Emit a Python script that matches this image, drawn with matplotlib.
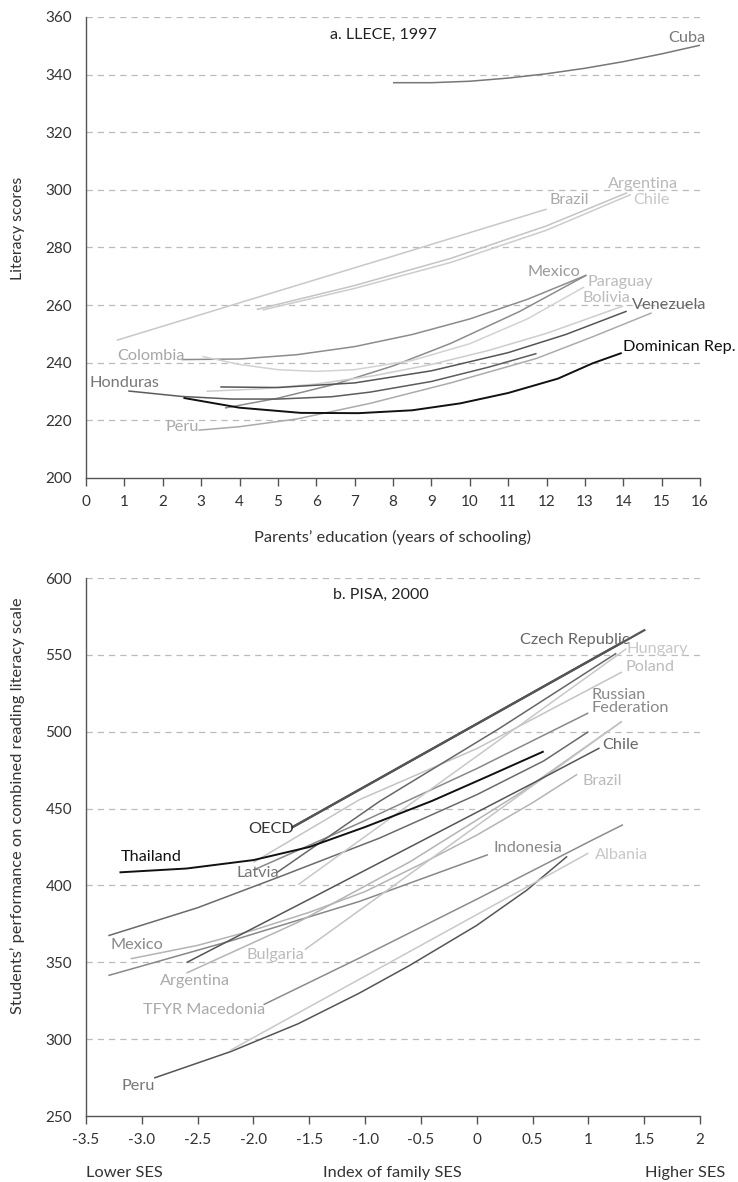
import matplotlib
matplotlib.use('Agg')
import matplotlib.pyplot as plt

plt.rcParams['font.family'] = ['Lato', 'DejaVu Sans']

# ---- panel a: LLECE 1997, literacy score by parents' years of schooling ----
llece_names = ['Cuba', 'Brazil', 'Argentina', 'Chile', 'Colombia', 'Mexico',
               'Paraguay', 'Bolivia', 'Honduras', 'Venezuela', 'Peru', 'Dominican Rep.']
llece_x = [
    [8, 9, 10, 11, 12, 13, 14, 15, 16],
    [0.8, 4, 8, 12],
    [4.45, 7, 9.5, 12, 14.1],
    [4.6, 7, 9.5, 12, 14.2],
    [2.49, 4, 5.5, 7, 8.5, 10, 11.5, 13.04],
    [3.62, 5, 6.5, 8, 9.5, 11.3, 13.04],
    [3.03, 4, 5, 6, 7, 8.5, 10, 11.5, 12.98],
    [3.14, 4.5, 6, 7.5, 9, 10.5, 12, 14.0],
    [1.1, 2.5, 3.8, 5, 6.4, 7.4, 9, 10.5, 11.74],
    [3.5, 5, 7, 9, 11, 12.5, 14.09],
    [2.93, 4, 5.5, 7.4, 9.5, 11.74, 13.2, 14.74],
    [2.54, 4, 5.6, 7.1, 8.5, 9.75, 11, 12.3, 13.2, 13.96],
]
llece_y = [
    [337.2, 337.2, 337.7, 338.8, 340.3, 342.2, 344.5, 347.2, 350.2],
    [247.8, 260.8, 277.0, 293.3],
    [258.5, 266.8, 276.2, 287.5, 299.0],
    [258.3, 265.8, 274.8, 286.0, 298.4],
    [241.1, 241.3, 242.8, 245.6, 249.8, 255.2, 262.0, 270.4],
    [224.3, 227.7, 232.6, 238.9, 246.7, 257.8, 270.4],
    [242.2, 239.4, 237.6, 237.0, 237.6, 240.8, 246.6, 255.2, 266.3],
    [230.1, 230.9, 232.6, 235.5, 239.4, 244.3, 250.2, 259.7],
    [230.2, 228.3, 227.4, 227.4, 228.2, 229.8, 233.5, 238.5, 243.2],
    [231.6, 231.4, 233.0, 237.2, 243.5, 249.8, 257.9],
    [216.6, 217.8, 220.5, 225.9, 233.0, 241.5, 249.0, 257.3],
    [227.8, 224.4, 222.6, 222.5, 223.5, 225.9, 229.5, 234.5, 239.8, 243.4],
]
llece_colors = ['#777777', '#c8c8c8', '#c4c4c4', '#cccccc', '#8c8c8c', '#8c8c8c',
                '#d2d2d2', '#cdcdcd', '#5c5c5c', '#555555', '#ababab', '#111111']
llece_label_xy = [(16.13, 352.6), (12.07, 296.5), (13.6, 302.0), (14.25, 296.5),
                  (0.81, 242.4), (12.87, 271.4), (13.08, 267.9), (12.95, 262.3),
                  (0.10, 232.8), (14.23, 260.0), (2.08, 217.7), (13.99, 245.5)]
llece_label_ha = ['right', 'left', 'left', 'left', 'left', 'right',
                  'left', 'left', 'left', 'left', 'left', 'left']
llece_label_colors = ['#777777', '#aaaaaa', '#b8b8b8', '#c8c8c8', '#a6a6a6', '#999999',
                      '#bbbbbb', '#bbbbbb', '#777777', '#666666', '#aaaaaa', '#111111']

# ---- panel b: PISA 2000, reading score by index of family SES ----
pisa_names = ['Peru', 'Albania', 'TFYR Macedonia', 'Indonesia', 'Argentina', 'Mexico',
              'Bulgaria', 'Brazil', 'Chile', 'Russian\nFederation', 'Poland', 'Hungary',
              'Latvia', 'Thailand', 'OECD', 'Czech Republic']
pisa_x = [
    [-2.89, -2.2, -1.6, -1.05, -0.6, 0, 0.45, 0.81],
    [-2.21, 1.0],
    [-1.91, -1.05, 0, 1.04, 1.31],
    [-3.3, -2.2, -1.05, 0.1],
    [-2.6, -1.6, -0.6, 0.4, 1.3],
    [-3.1, -2.5, -2.0, -1.5, -1.0, -0.5, 0, 0.5, 0.9],
    [-1.54, 1.3],
    [-2.6, -1.5, -0.5, 0.5, 1.1],
    [-3.3, -2.5, -1.76, -0.87, 0, 0.6, 1.0],
    [-2.0, -1.05, 0, 1.0],
    [-2.0, -1.05, 0, 1.3],
    [-1.6, 1.34],
    [-1.79, -0.87, 0.2, 1.25],
    [-3.2, -2.6, -2.0, -1.5, -1.0, -0.4, 0.1, 0.6],
    [-1.66, 1.3],
    [-1.66, 1.51],
]
pisa_y = [
    [274.7, 292.0, 310.0, 330.0, 348.0, 374.0, 397.0, 418.9],
    [292.6, 421.0],
    [322.4, 352.8, 391.0, 429.7, 439.5],
    [341.4, 364.0, 389.6, 420.0],
    [343.0, 376.1, 415.3, 460.7, 506.7],
    [352.3, 361.0, 370.9, 382.5, 396.0, 413.9, 432.7, 453.8, 472.3],
    [358.2, 506.7],
    [349.8, 391.0, 428.7, 466.4, 489.4],
    [367.3, 385.5, 405.8, 430.8, 459.0, 481.0, 500.0],
    [410.0, 440.6, 476.0, 512.2],
    [415.0, 455.8, 489.0, 538.8],
    [400.5, 554.0],
    [408.4, 454.7, 502.0, 551.0],
    [408.5, 411.0, 416.5, 425.0, 438.0, 455.0, 471.0, 487.2],
    [437.5, 558.0],
    [437.5, 566.4],
]
pisa_colors = ['#555555', '#c8c8c8', '#8c8c8c', '#888888', '#b4b4b4', '#b4b4b4',
               '#c4c4c4', '#555555', '#6a6a6a', '#888888', '#c4c4c4', '#c8c8c8',
               '#666666', '#111111', '#444444', '#555555']
pisa_label_xy = [(-3.18, 269.8), (1.06, 420.0), (-2.99, 319.2), (0.146, 424.5),
                 (-2.84, 338.0), (-3.28, 361.4), (-2.06, 354.9), (0.95, 468.1),
                 (1.12, 491.5), (1.03, 519.5), (1.337, 542.3), (1.346, 554.0),
                 (-2.15, 408.3), (-3.19, 418.7), (-2.05, 436.9), (0.39, 559.9)]
pisa_label_colors = ['#777777', '#c8c8c8', '#aaaaaa', '#888888', '#aaaaaa', '#888888',
                     '#bbbbbb', '#bbbbbb', '#666666', '#888888', '#bbbbbb', '#c8c8c8',
                     '#777777', '#111111', '#333333', '#666666']
pisa_ticks = [-3.5, -3.0, -2.5, -2.0, -1.5, -1.0, -0.5, 0, 0.5, 1, 1.5, 2]
pisa_tick_labels = ['-3.5', '-3.0', '-2.5', '-2.0', '-1.5', '-1.0', '-0.5',
                    '0', '0.5', '1', '1.5', '2']

W, H = 738, 1182
LABEL_FS = 11.7
fig = plt.figure(figsize=(W / 100, H / 100), dpi=100)


def px_axes(left, top, right, bottom):
    return fig.add_axes([left / W, 1 - bottom / H, (right - left) / W, (bottom - top) / H])


def style(ax, yticks):
    for s in ['top', 'right']:
        ax.spines[s].set_visible(False)
    ax.spines['left'].set_color('#555555')
    ax.spines['bottom'].set_color('#555555')
    ax.spines['left'].set_linewidth(1.0)
    ax.spines['bottom'].set_linewidth(1.0)
    ax.set_yticks(yticks)
    for y in yticks[1:]:
        ax.axhline(y, color='#bbbbbb', lw=0.9, dashes=(5, 4), zorder=0)
    ax.tick_params(axis='y', length=0, pad=10, labelsize=11, labelcolor='#333333')
    ax.tick_params(axis='x', length=6, width=1.0, color='#555555', pad=6,
                   labelsize=11, labelcolor='#333333')


# panel a
ax1 = px_axes(86, 17, 700, 478)
ax1.set_xlim(0, 16)
ax1.set_ylim(200, 360)
style(ax1, list(range(200, 361, 20)))
ax1.set_xticks(range(0, 17))
for xs, ys, c in zip(llece_x, llece_y, llece_colors):
    ax1.plot(xs, ys, color=c, lw=1.1 if c != '#111111' else 1.4, solid_capstyle='butt')
for name, (lx, ly), ha, c in zip(llece_names, llece_label_xy, llece_label_ha, llece_label_colors):
    ax1.text(lx, ly, name, ha=ha, va='center', fontsize=LABEL_FS, color=c)
ax1.text(6.36, 353.8, 'a. LLECE, 1997', ha='left', va='center', fontsize=11.5, color='#222222')
fig.text(18 / W, 1 - 228 / H, 'Literacy scores', rotation=90, ha='center', va='center',
         fontsize=11.3, color='#333333')
fig.text(392 / W, 1 - 537 / H, 'Parents\u2019 education (years of schooling)', ha='center',
         va='center', fontsize=11.8, color='#333333')

# panel b
ax2 = px_axes(86, 578, 700, 1116)
ax2.set_xlim(-3.5, 2)
ax2.set_ylim(250, 600)
style(ax2, list(range(250, 601, 50)))
ax2.set_xticks(pisa_ticks)
ax2.set_xticklabels(pisa_tick_labels)
for name, xs, ys, c in zip(pisa_names, pisa_x, pisa_y, pisa_colors):
    lw = 1.4 if c == '#111111' else 1.1
    if name in ('OECD', 'Czech Republic'):
        lw = 1.6
    ax2.plot(xs, ys, color=c, lw=lw, solid_capstyle='butt')
for name, (lx, ly), c in zip(pisa_names, pisa_label_xy, pisa_label_colors):
    ax2.text(lx, ly, name, ha='left', va='center', fontsize=LABEL_FS, color=c, linespacing=0.95)
ax2.text(-1.29, 589.1, 'b. PISA, 2000', ha='left', va='center', fontsize=11.5, color='#222222')
fig.text(18 / W, 1 - 806 / H, 'Students\u2019 performance on combined reading literacy scale',
         rotation=90, ha='center', va='center', fontsize=11.8, color='#333333')
fig.text(86 / W, 1 - 1173 / H, 'Lower SES', ha='left', va='center', fontsize=11.8, color='#333333')
fig.text(392 / W, 1 - 1173 / H, 'Index of family SES', ha='center', va='center',
         fontsize=11.8, color='#333333')
fig.text(725 / W, 1 - 1173 / H, 'Higher SES', ha='right', va='center', fontsize=11.8,
         color='#333333')

fig.savefig('out.png', dpi=100)
